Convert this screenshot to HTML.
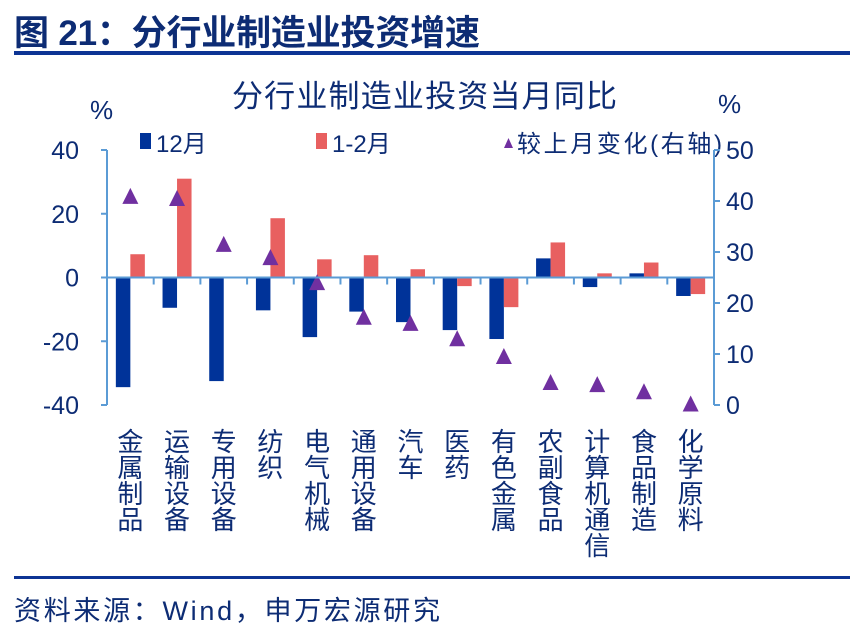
<!DOCTYPE html>
<html><head><meta charset="utf-8"><style>
body{margin:0;background:#fff;}
svg text{font-family:"Liberation Sans","Noto Sans CJK SC",sans-serif;}
</style></head><body>
<svg width="860" height="634" viewBox="0 0 860 634">
<text x="14" y="45" font-size="35" font-weight="bold" fill="#0d2c74" textLength="466">图 21：分行业制造业投资增速</text>
<rect x="14" y="51" width="836" height="4" fill="#0d3494"/>
<text x="232" y="107" font-size="31" fill="#0d2c74" textLength="385">分行业制造业投资当月同比</text>
<text x="90" y="119" font-size="26" fill="#0d2c74">%</text>
<text x="718" y="113" font-size="26" fill="#0d2c74">%</text>
<g>
<rect x="140" y="133" width="11" height="16" fill="#003399"/>
<text x="156" y="152" font-size="24" fill="#0d2c74">12月</text>
<rect x="316" y="133" width="11" height="16" fill="#e86060"/>
<text x="332" y="152" font-size="24" fill="#0d2c74">1-2月</text>
<polygon points="504,148 513,148 508.5,138" fill="#7030a0"/>
<text x="517" y="152" font-size="24" fill="#0d2c74" textLength="205">较上月变化(右轴)</text>
</g>
<g id="plot"></g>
<rect x="14" y="576" width="836" height="3" fill="#0d3494"/>
<text x="14" y="620" font-size="27" fill="#0d2c74" textLength="426">资料来源：Wind，申万宏源研究</text>
</svg>
<script>
const categories=["金属制品","运输设备","专用设备","纺织","电气机械","通用设备","汽车","医药","有色金属","农副食品","计算机通信","食品制造","化学原料"];
const dec=[-34.4,-9.5,-32.5,-10.3,-18.7,-10.7,-14,-16.5,-19.3,6,-3,1.3,-5.8];
const janfeb=[7.3,31,-0.3,18.6,5.7,7,2.6,-2.7,-9.3,11,1.3,4.7,-5.2];
const change=[41,40.6,31.6,29,24.1,17.3,16.1,13.1,9.6,4.5,4.1,2.7,0.3];
const leftTicks=[40,20,0,-20,-40];
const rightTicks=[50,40,30,20,10,0];
const NS="http://www.w3.org/2000/svg";
const g=document.getElementById('plot');
const X0=107,X1=714,YT=150,YB=405;
const yL=v=>YT+(40-v)/80*(YB-YT);
const yR=v=>YT+(50-v)/50*(YB-YT);
const cw=(X1-X0)/categories.length;
const xc=i=>X0+cw*(i+0.5);
function mk(t,a){const e=document.createElementNS(NS,t);for(const k in a)e.setAttribute(k,a[k]);g.appendChild(e);return e;}
const axc="#5b9bd5";
let e;
e=mk('line',{x1:X0,y1:YT,x2:X0,y2:YB,stroke:axc,'stroke-width':2});


e=mk('line',{x1:X1,y1:YT,x2:X1,y2:YB,stroke:axc,'stroke-width':2});


leftTicks.forEach(v=>{
 e=mk('line',{x1:X0-6,y1:yL(v),x2:X0,y2:yL(v),stroke:axc,'stroke-width':2});
 
 
 e=mk('text',{x:X0-28,y:yL(v)+9,'font-size':25,fill:'#0d2c74','text-anchor':'end'});
 e.textContent=v;
 
 
});
rightTicks.forEach(v=>{
 e=mk('line',{x1:X1,y1:yR(v),x2:X1+6,y2:yR(v),stroke:axc,'stroke-width':2});
 
 
 e=mk('text',{x:X1+12,y:yR(v)+9,'font-size':25,fill:'#0d2c74'});
 e.textContent=v;
 
 
});
const bw=14.5;
categories.forEach((c,i)=>{
 const cx=xc(i);
 let y0=yL(0),y1=yL(dec[i]);
 e=mk('rect',{x:cx-bw,y:Math.min(y0,y1),width:bw,height:Math.abs(y1-y0),fill:'#003399'});
 
 
 y1=yL(janfeb[i]);
 e=mk('rect',{x:cx,y:Math.min(y0,y1),width:bw,height:Math.abs(y1-y0),fill:'#e86060'});
 
 
 const ty=yR(change[i]);
 e=mk('polygon',{points:`${cx-8},${ty+8} ${cx+8},${ty+8} ${cx},${ty-8}`,fill:'#7030a0'});
 
 
 [...c].forEach((ch,k)=>{
  e=mk('text',{x:cx,y:451+k*26,'font-size':26,fill:'#0d2c74','text-anchor':'middle'});
  e.textContent=ch;
  
  
 });
});
e=mk('line',{x1:X0,y1:yL(0),x2:X1,y2:yL(0),stroke:axc,'stroke-width':2});


for(let i=1;i<categories.length;i++){
 e=mk('line',{x1:X0+cw*i,y1:yL(0),x2:X0+cw*i,y2:yL(0)+7,stroke:axc,'stroke-width':2});
 
 
}
</script>
</body></html>
